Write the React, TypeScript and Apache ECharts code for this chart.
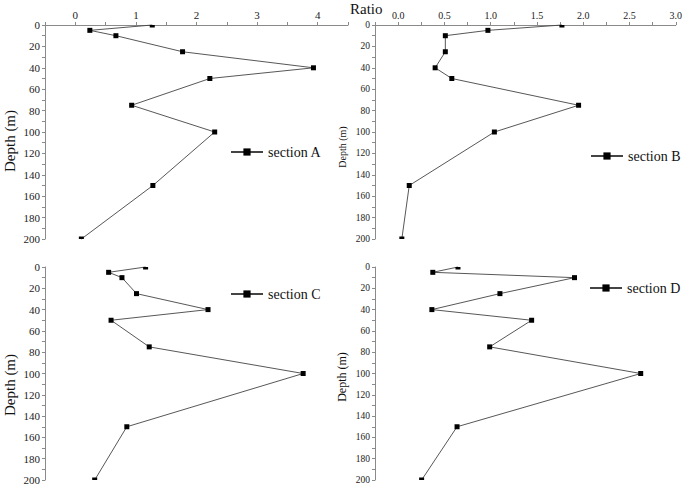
import React, { useEffect, useRef } from "react";
import * as echarts from "echarts";

const depths = [0, 5, 10, 25, 40, 50, 75, 100, 150, 200];
const ratioA = [1.27, 0.24, 0.67, 1.77, 3.93, 2.22, 0.93, 2.3, 1.28, 0.1];
const ratioB = [1.77, 0.97, 0.51, 0.51, 0.4, 0.58, 1.95, 1.04, 0.12, 0.04];
const ratioC = [1.16, 0.55, 0.77, 1.01, 2.19, 0.59, 1.22, 3.76, 0.85, 0.32];
const ratioD = [0.64, 0.37, 1.89, 1.09, 0.36, 1.43, 0.98, 2.6, 0.63, 0.25];
const seriesNames = ["section A", "section B", "section C", "section D"];

const FONT = "Liberation Serif";

function buildData(vals: number[]) {
  return vals.map((v, i) => {
    const d = depths[i];
    if (d === 0) return { value: [v, d], symbolSize: [5, 2.5], symbolOffset: [0, 1.25] };
    if (d === 200) return { value: [v, d], symbolSize: [5, 2.5], symbolOffset: [0, -1.25] };
    return { value: [v, d] };
  });
}

export default function App() {
  const ref = useRef<HTMLDivElement>(null);
  useEffect(() => {
    if (!ref.current) return;
    const chart = echarts.init(ref.current, undefined, { renderer: "svg" });
    const grids = [
      { left: 45, top: 25, width: 303, height: 214 },
      { left: 375, top: 25, width: 303, height: 214 },
      { left: 45, top: 267, width: 303, height: 213 },
      { left: 375, top: 267, width: 303, height: 213 },
    ];
    const axisLineColor = "#8a8a8a";
    const xAxes = grids.map((_, i) => {
      const wide = i % 2 === 0;
      return {
        type: "value",
        gridIndex: i,
        position: "top",
        show: i < 2,
        min: wide ? -0.5 : -0.25,
        max: wide ? 4.5 : 3.0,
        interval: wide ? 0.5 : 0.25,
        splitLine: { show: false },
        axisLine: { show: true, onZero: false, lineStyle: { color: axisLineColor, width: 1 } },
        axisTick: { show: true, length: 3, inside: false, lineStyle: { color: axisLineColor } },
        axisLabel: {
          fontFamily: FONT,
          fontSize: wide ? 11 : 10,
          color: "#222",
          margin: 5,
          formatter: (v: number) => {
            if (wide) return Number.isInteger(v) && v >= 0 ? String(v) : "";
            const k = Math.round(v * 4);
            return k >= 0 && k % 2 === 0 ? v.toFixed(1) : "";
          },
        },
      };
    });
    const yAxes = grids.map((_, i) => {
      const wide = i % 2 === 0;
      return {
        type: "value",
        gridIndex: i,
        inverse: true,
        min: 0,
        max: 200,
        interval: 10,
        splitLine: { show: false },
        axisLine: { show: true, onZero: false, lineStyle: { color: axisLineColor, width: 1 } },
        axisTick: { show: true, length: 3, lineStyle: { color: axisLineColor } },
        axisLabel: {
          fontFamily: FONT,
          fontSize: wide ? 11 : 9.5,
          color: "#222",
          margin: 5,
          formatter: (v: number) => (v % 20 === 0 ? String(v) : ""),
        },
      };
    });
    const allRatios = [ratioA, ratioB, ratioC, ratioD];
    const series = allRatios.map((vals, i) => ({
      name: seriesNames[i],
      type: "line",
      xAxisIndex: i,
      yAxisIndex: i,
      data: buildData(vals),
      symbol: "rect",
      symbolSize: 5,
      showSymbol: true,
      clip: false,
      lineStyle: { color: "#444", width: 0.9 },
      itemStyle: { color: "#000" },
    }));
    const legendPos = [
      { left: 230, top: 145 },
      { left: 590, top: 149 },
      { left: 230, top: 287 },
      { left: 589, top: 281 },
    ];
    const legends = seriesNames.map((n, i) => ({
      data: [n],
      left: legendPos[i].left,
      top: legendPos[i].top,
      itemWidth: 32,
      itemHeight: 9,
      padding: 0,
      textStyle: { fontFamily: FONT, fontSize: 14, color: "#111" },
      selectedMode: false,
    }));
    const depthLabel = (x: number, y: number, size: number) => ({
      type: "text",
      x,
      y,
      rotation: Math.PI / 2,
      style: {
        text: "Depth (m)",
        font: `${size}px "${FONT}"`,
        fill: "#111",
        textAlign: "center",
        textVerticalAlign: "middle",
      },
    });
    chart.setOption({
      animation: false,
      backgroundColor: "#fff",
      textStyle: { fontFamily: FONT },
      grid: grids,
      xAxis: xAxes,
      yAxis: yAxes,
      series,
      legend: legends,
      graphic: [
        {
          type: "text",
          x: 350,
          y: 9,
          style: {
            text: "Ratio",
            font: `15px "${FONT}"`,
            fill: "#111",
            textAlign: "left",
            textVerticalAlign: "middle",
          },
        },
        depthLabel(10, 141, 15),
        depthLabel(342, 147, 10),
        depthLabel(10, 385, 15),
        depthLabel(342, 377, 12),
      ],
    });
    return () => chart.dispose();
  }, []);
  return (
    <div
      ref={ref}
      style={{ position: "fixed", left: 0, top: 0, width: 685, height: 486, background: "#fff" }}
    />
  );
}
